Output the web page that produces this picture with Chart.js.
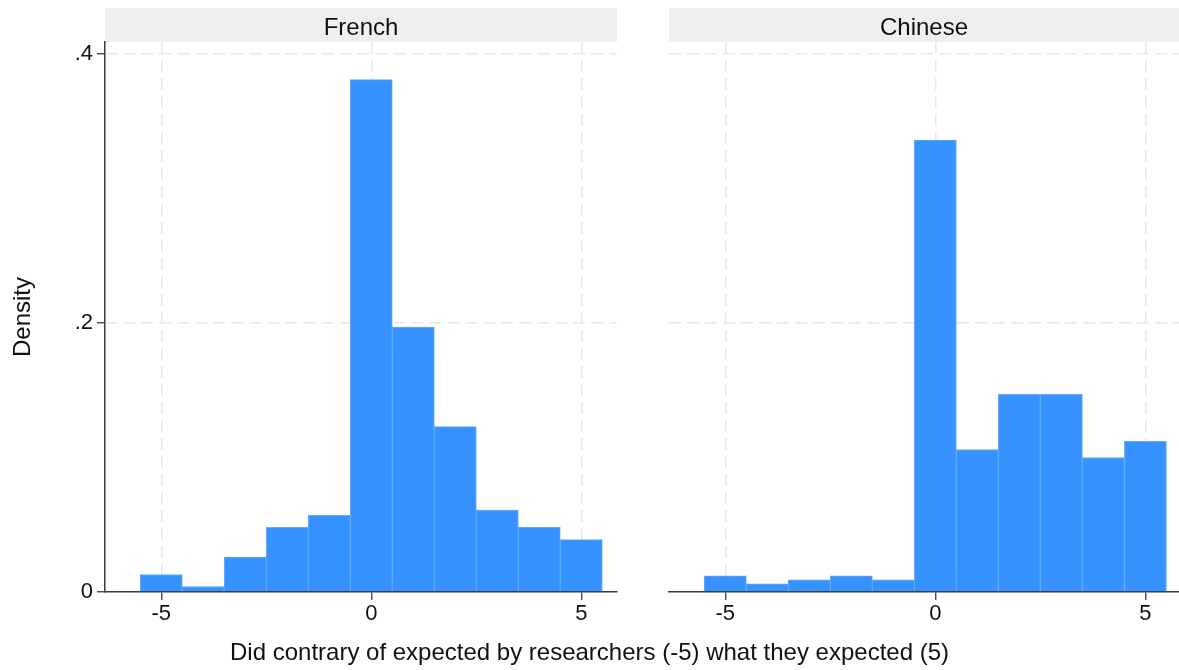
<!DOCTYPE html>
<html>
<head>
<meta charset="utf-8">
<script src="https://cdn.jsdelivr.net/npm/chart.js@4.4.0/dist/chart.umd.min.js"></script>
<style>
  body { margin: 0; background: #fff; width: 1179px; height: 670px; position: relative; overflow: hidden;
         font-family: "Liberation Sans", Arial, sans-serif; }
  #leftChart { position: absolute; left: 0; top: 0; }
  #rightChart { position: absolute; left: 600px; top: 0; }
  #xtitle { position: absolute; left: 0; top: 638px; width: 1179px; text-align: center;
            font-size: 24px; line-height: 28px; color: #111; }
</style>
</head>
<body>
<canvas id="leftChart" width="620" height="670"></canvas>
<canvas id="rightChart" width="579" height="670"></canvas>
<div id="xtitle">Did contrary of expected by researchers (-5) what they expected (5)</div>
<script>
// histogram bins (width 1) and densities
const binCenters = [-5, -4, -3, -2, -1, 0, 1, 2, 3, 4, 5];
const frenchDensity = [0.013, 0.004, 0.026, 0.048, 0.057, 0.381, 0.197, 0.123, 0.061, 0.048, 0.039];
const chineseDensity = [0.012, 0.006, 0.009, 0.012, 0.009, 0.336, 0.106, 0.147, 0.147, 0.100, 0.112];
const xTicks = [-5, 0, 5];
const yTicks = [0, 0.2, 0.4];
const yTickLabels = ['0', '.2', '.4'];

const FONT = '"Liberation Sans", Arial, sans-serif';
const gridColor = '#e8e8e8';
const axisColor = '#3a3a3a';

// grey facet strip with the panel name, over the plot area
const stripPlugin = {
    id: 'strip',
    beforeDraw(chart, args, opts) {
        const { ctx, chartArea } = chart;
        ctx.save();
        ctx.fillStyle = '#efefef';
        ctx.fillRect(chartArea.left, 8, chartArea.right - chartArea.left, 34);
        ctx.fillStyle = '#111';
        ctx.font = '24px ' + FONT;
        ctx.textAlign = 'center';
        ctx.textBaseline = 'alphabetic';
        ctx.fillText(opts.text, (chartArea.left + chartArea.right) / 2, 35);
        ctx.restore();
    }
};

function makePanel(canvasId, title, values, showY, yWidth, padRight, xMax) {
    const ctx = document.getElementById(canvasId).getContext('2d');
    return new Chart(ctx, {
        type: 'bar',
        data: {
            datasets: [{
                data: binCenters.map((x, i) => ({ x: x, y: values[i] })),
                backgroundColor: '#3592ff',
                borderColor: '#62a9ff',
                borderWidth: 1,
                barPercentage: 1,
                categoryPercentage: 1
            }]
        },
        options: {
            responsive: false,
            animation: false,
            devicePixelRatio: 1,
            layout: { padding: { top: 42, left: 0, right: padRight, bottom: 0 } },
            plugins: {
                legend: { display: false },
                tooltip: { enabled: false },
                strip: { text: title }
            },
            scales: {
                x: {
                    type: 'linear',
                    offset: false,
                    min: -6.34,
                    max: xMax,
                    afterBuildTicks: (axis) => { axis.ticks = xTicks.map(v => ({ value: v })); },
                    afterFit: (axis) => { axis.height = 78; },
                    ticks: { color: '#111', font: { family: FONT, size: 22 }, padding: 1, maxRotation: 0 },
                    grid: {
                        offset: false,
                        color: gridColor, lineWidth: 1.5,
                        tickLength: 8, tickColor: axisColor, tickWidth: 1.3, tickBorderDash: []
                    },
                    border: { display: true, color: axisColor, width: 1.5, dash: [12, 6] }
                },
                y: {
                    min: 0,
                    max: 0.409,
                    afterBuildTicks: (axis) => { axis.ticks = yTicks.map(v => ({ value: v })); },
                    afterFit: (axis) => { axis.width = yWidth; },
                    ticks: {
                        display: showY,
                        color: '#111',
                        font: { family: FONT, size: 22 },
                        padding: 4,
                        callback: (v) => yTickLabels[yTicks.indexOf(v)]
                    },
                    grid: {
                        color: (c) => (c.tick && c.tick.value === 0) ? 'rgba(0,0,0,0)' : gridColor,
                        lineWidth: 1.5,
                        drawTicks: showY,
                        tickLength: 8, tickColor: axisColor, tickWidth: 1.3, tickBorderDash: []
                    },
                    border: { display: showY, color: axisColor, width: 1.5, dash: [12, 6] },
                    title: {
                        display: showY,
                        text: 'Density',
                        color: '#111',
                        font: { family: FONT, size: 24 },
                        padding: { top: 9, bottom: 0 }
                    }
                }
            }
        },
        plugins: [stripPlugin]
    });
}

makePanel('leftChart', 'French', frenchDensity, true, 105, 3, 5.85);
makePanel('rightChart', 'Chinese', chineseDensity, false, 69, 0, 5.80);
</script>
</body>
</html>
